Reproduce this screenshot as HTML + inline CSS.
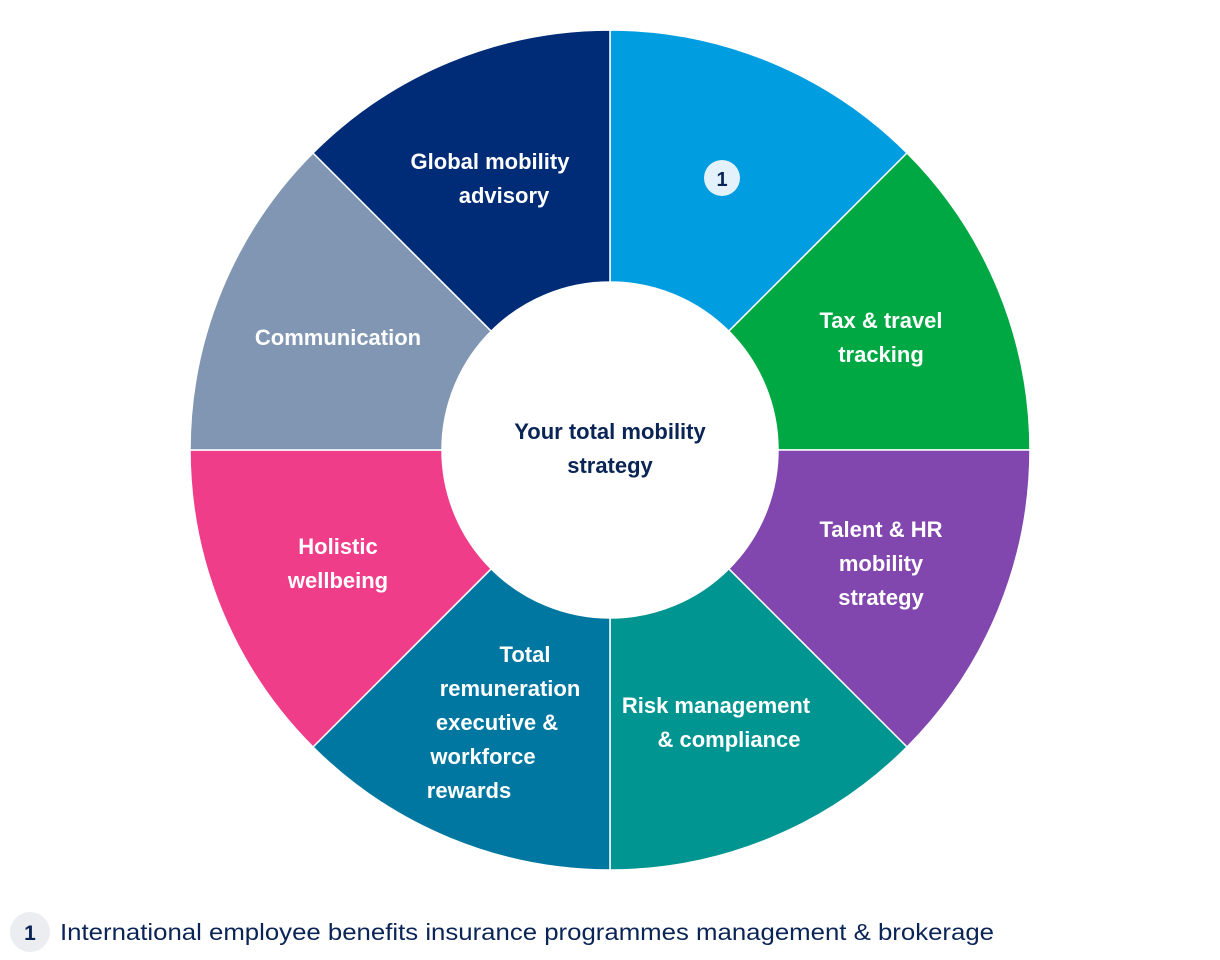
<!DOCTYPE html>
<html><head><meta charset="utf-8"><style>
html,body{margin:0;padding:0;background:#fff;}
svg{display:block;}
text{font-family:"Liberation Sans",sans-serif;}
</style></head><body>
<svg width="1220" height="960" viewBox="0 0 1220 960" xmlns="http://www.w3.org/2000/svg">
<g stroke="#fff" stroke-width="1.5">
<path d="M610,30 A420,420 0 0 1 907,153 L728.8,331.2 A168,168 0 0 0 610,282 Z" fill="#009de0"/>
<path d="M907,153 A420,420 0 0 1 1030,450 L778,450 A168,168 0 0 0 728.8,331.2 Z" fill="#00a843"/>
<path d="M1030,450 A420,420 0 0 1 907,747 L728.8,568.8 A168,168 0 0 0 778,450 Z" fill="#8246af"/>
<path d="M907,747 A420,420 0 0 1 610,870 L610,618 A168,168 0 0 0 728.8,568.8 Z" fill="#009590"/>
<path d="M610,870 A420,420 0 0 1 313,747 L491.2,568.8 A168,168 0 0 0 610,618 Z" fill="#0077a0"/>
<path d="M313,747 A420,420 0 0 1 190,450 L442,450 A168,168 0 0 0 491.2,568.8 Z" fill="#ef3d8a"/>
<path d="M190,450 A420,420 0 0 1 313,153 L491.2,331.2 A168,168 0 0 0 442,450 Z" fill="#8096b2"/>
<path d="M313,153 A420,420 0 0 1 610,30 L610,282 A168,168 0 0 0 491.2,331.2 Z" fill="#002c77"/>
</g>
<g fill="#fff" font-weight="bold" font-size="22" text-anchor="middle">
<text x="490" y="169">Global mobility</text>
<text x="504" y="203">advisory</text>
<text x="338" y="345">Communication</text>
<text x="881" y="328">Tax &amp; travel</text>
<text x="881" y="362">tracking</text>
<text x="881" y="537">Talent &amp; HR</text>
<text x="881" y="571">mobility</text>
<text x="881" y="605">strategy</text>
<text x="338" y="554">Holistic</text>
<text x="338" y="588">wellbeing</text>
<text x="716" y="713">Risk management</text>
<text x="729" y="747">&amp; compliance</text>
<text x="525" y="662">Total</text>
<text x="510" y="696">remuneration</text>
<text x="497" y="730">executive &amp;</text>
<text x="483" y="764">workforce</text>
<text x="469" y="798">rewards</text>
</g>
<g fill="#0a2456" font-weight="bold" font-size="22" text-anchor="middle">
<text x="610" y="439">Your total mobility</text>
<text x="610" y="473">strategy</text>
</g>
<circle cx="722" cy="178" r="18" fill="#e3f1fa"/>
<text x="722" y="186" fill="#0a2456" font-weight="bold" font-size="20" text-anchor="middle">1</text>
<circle cx="30" cy="932" r="20" fill="#ebedf0"/>
<text x="30" y="940" fill="#0a2456" font-weight="bold" font-size="21" text-anchor="middle">1</text>
<text x="60" y="940" fill="#0a2456" font-size="23" textLength="934" lengthAdjust="spacingAndGlyphs">International employee benefits insurance programmes management &amp; brokerage</text>
</svg>
</body></html>
